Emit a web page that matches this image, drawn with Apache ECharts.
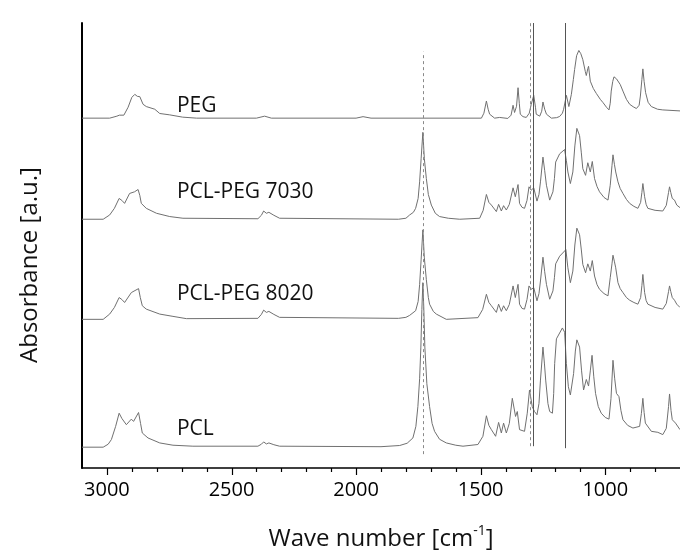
<!DOCTYPE html>
<html><head><meta charset="utf-8">
<script src="https://cdn.jsdelivr.net/npm/echarts@6/dist/echarts.min.js"></script>
<style>html,body{margin:0;padding:0;background:#fff}#c{width:680px;height:556px}</style>
</head><body><div id="c"></div>
<script>
// Wave number range (cm^-1), x axis reversed
const xMin = 700, xMax = 3100;
const majorTicks = [1000, 1500, 2000, 2500, 3000];
const minorTicks = [800, 900, 1100, 1200, 1300, 1400, 1600, 1700, 1800, 1900, 2100, 2200, 2300, 2400, 2600, 2700, 2800, 2900];
// Spectra: [wave number, absorbance (arbitrary units, stacked offsets included)]
const peg = [[3100,353],[2989,353],[2960,355],[2950,356],[2932,356],[2915,364],[2900,374],[2888,377],[2878,375],[2868,374.7],[2855,367],[2842,364.7],[2808,362],[2788,357.7],[2748,356.3],[2696,354],[2640,353],[2400,353],[2367,355],[2340,353],[2000,353],[1972,354.5],[1940,353],[1497,353],[1487,358],[1477,370.3],[1470,362],[1464,357],[1444,353],[1424,353.7],[1391,352.7],[1378,356],[1370,366],[1364,358.7],[1356,365],[1350,383.7],[1345,368],[1341,357],[1330,354.5],[1317,353.7],[1305,358],[1297,367],[1287,376],[1280,364],[1277,357],[1263,355],[1255,360],[1250,369.3],[1243,362],[1236,357],[1216,353],[1195,353.5],[1183,354.7],[1172,358],[1167,362],[1156,376],[1146,364.7],[1136,377],[1128,392],[1123,402],[1115,416],[1106,421.3],[1098,418],[1090,412],[1080,400],[1076,396],[1070,403],[1067,405.3],[1060,390.3],[1048,383],[1036,378],[1020,372],[1009,368.7],[995,364],[985,361.3],[980,368],[976,380.3],[970,390],[965,394.7],[960,393],[955,392.7],[949,393.7],[940,387],[929,380.3],[915,372],[902,367],[888,364.5],[875,362.7],[864,366],[859,375.3],[853,392],[849,402.7],[844,390],[838,378.7],[828,369],[815,364.7],[790,362],[769,361.3],[700,360.3]];
const pcl7030 = [[3100,251],[3015,251],[2989,255.3],[2970,262],[2951,272],[2940,270],[2929,267],[2909,277],[2889,278.7],[2875,281],[2868,275],[2862,267],[2842,262],[2801,257],[2748,253.7],[2695,252],[2394,251.5],[2380,255],[2371,259.3],[2360,257],[2350,258],[2330,255],[2307,252],[1830,251],[1800,252],[1785,255.3],[1770,258],[1761,262],[1751,272],[1745,288.7],[1739,312],[1732,338.7],[1726,312],[1718,292],[1710,276],[1698,265.3],[1682,257],[1665,253.7],[1630,252],[1584,251],[1504,252],[1490,260],[1477,276],[1467,268],[1457,265.3],[1437,258.7],[1428,266],[1417,259.3],[1408,264.7],[1397,260.3],[1385,266],[1370,282.7],[1361,273.7],[1350,286],[1344,267],[1334,263],[1324,262],[1314,270],[1306,283.7],[1297,280.3],[1287,282.7],[1274,269.3],[1266,276],[1260,288.7],[1250,313.7],[1243,300],[1236,285.3],[1223,270.3],[1210,278.7],[1204,292],[1199,308.7],[1183,317],[1163,321.3],[1156,310],[1150,298.7],[1140,287],[1130,298.7],[1122,325],[1114,342.7],[1103,335.3],[1096,318],[1090,302],[1079,295.3],[1070,308],[1060,298.7],[1052,309.3],[1043,292],[1033,284],[1023,278.7],[1005,273],[989,270.3],[980,285.3],[973,305],[969,316],[963,306],[958,298.7],[949,288.7],[940,282],[929,277],[915,271],[902,267],[885,264],[869,262],[858,268],[853,278],[849,287],[842,273.7],[836,266],[829,262],[800,260],[769,259.3],[755,265],[746,278],[742,283.7],[737,278],[731,272],[722,270.3],[713,265.3],[700,262.7]];
const pcl8020 = [[3100,150],[3015,150],[2989,155.3],[2970,162],[2951,172],[2940,170],[2929,167],[2902,177],[2873,181],[2866,172],[2858,163.7],[2842,160.3],[2788,155.3],[2735,153],[2681,150.7],[2394,151],[2380,155],[2371,159.3],[2360,157],[2350,158],[2330,155],[2307,152],[1830,151],[1800,152],[1785,154],[1761,158.7],[1751,168],[1745,185],[1739,210],[1732,240.3],[1726,212],[1718,190],[1710,172],[1705,165.3],[1690,158],[1678,155.3],[1638,150],[1511,151.7],[1492,160],[1477,175.3],[1467,167],[1457,163.7],[1437,157],[1428,165.3],[1417,158],[1408,163.7],[1397,158.7],[1385,165],[1370,183.7],[1361,172],[1350,185.3],[1344,165.3],[1334,161],[1324,160.3],[1314,170],[1306,183.7],[1297,180.3],[1287,182],[1274,168.7],[1266,176],[1260,188.7],[1250,212.7],[1243,198],[1236,185.3],[1223,170.3],[1210,178.7],[1204,192],[1199,206],[1183,213.7],[1158,220.3],[1150,202],[1140,187],[1130,198.7],[1122,225],[1114,242],[1103,235.3],[1096,220],[1090,205.3],[1079,197],[1070,206],[1060,198.7],[1052,209.3],[1043,193.7],[1033,185],[1023,180.3],[1005,176],[989,173.7],[980,192],[973,206],[969,214.7],[963,208],[958,202],[949,187],[940,181],[929,177],[915,172],[902,169.3],[885,167],[869,165.3],[858,172],[853,184],[849,195.3],[842,177],[836,169],[829,165.3],[800,162],[769,160.3],[755,166],[746,178],[742,183.7],[737,178],[731,172],[722,169.3],[713,165.3],[700,162]];
const pcl = [[3100,21],[3015,21],[2995,24],[2982,28.7],[2965,42],[2951,55.3],[2940,50],[2922,43.7],[2902,49.3],[2893,47],[2873,56],[2865,45],[2858,35.3],[2835,30.3],[2788,25.3],[2735,23],[2655,22],[2394,22],[2380,24],[2371,26.3],[2360,24.3],[2350,25.3],[2330,23.5],[2307,22],[1900,21.5],[1825,22.7],[1795,25],[1772,30.3],[1760,42],[1752,62],[1745,90],[1740,122],[1736,160],[1732,187],[1728,160],[1724,122],[1716,85],[1705,62],[1695,45],[1685,37],[1665,29],[1638,25.3],[1600,23],[1571,22],[1511,23.7],[1491,32],[1477,52.7],[1467,43],[1457,38.7],[1440,32],[1428,46],[1417,35.3],[1408,45.3],[1397,35.3],[1385,45],[1373,70.3],[1360,52],[1353,57],[1344,38.7],[1324,37],[1313,55.3],[1304,78.7],[1293,62],[1284,57],[1274,53.7],[1266,65],[1260,88.7],[1250,122],[1244,105],[1239,88.7],[1230,65],[1223,57],[1212,55.3],[1207,75],[1203,105.3],[1196,130.3],[1172,141.3],[1163,137],[1156,105.3],[1148,82],[1140,73.7],[1127,95.3],[1120,118],[1114,129.3],[1103,122],[1095,98],[1087,78.7],[1076,89.3],[1067,82.7],[1060,98],[1053,113.7],[1046,92],[1039,75.3],[1028,62],[1016,55.3],[1000,51],[985,49.3],[977,70],[969,108.7],[962,90],[955,75.3],[945,72],[937,58],[929,48.7],[910,43],[889,40.3],[862,42],[855,55],[849,70.3],[844,56],[839,45.3],[815,37],[789,36],[769,33.7],[755,40],[746,62],[742,74.7],[736,58],[731,48.7],[718,45.3],[700,38.7]];
const seriesNames = ['PEG', 'PCL-PEG 7030', 'PCL-PEG 8020', 'PCL'];
// label anchor [wave number, absorbance] for each series name
const labelAnchors = [[2719,365.5],[2719,278.3],[2719,176],[2719,39]];
// reference lines: wave number, from, to, dashed?
const refLines = [[1730,14,420,true],[1303,22,449,true],[1287,22,449,false],[1159,20,449,false]];

const font = 'Open Sans';
const chart = echarts.init(document.getElementById('c'), null, {renderer:'canvas'});
const spectra = [peg, pcl7030, pcl8020, pcl];
const series = spectra.map((d,i)=>({
  type:'line', name:seriesNames[i], data:d, showSymbol:false, symbol:'none', silent:true,
  lineStyle:{color:'#707070', width:1}, z:3,
  markPoint:{symbol:'circle', symbolSize:0, silent:true,
    data:[{coord:labelAnchors[i], value:seriesNames[i]}],
    label:{show:true, position:'right', distance:0, formatter:seriesNames[i], color:'#111', fontFamily:font, fontSize:21}}
}));
series.push({
  type:'line', data:[], silent:true, z:2,
  markLine:{symbol:'none', silent:true, label:{show:false},
    data: refLines.map(r=>[
      {coord:[r[0], r[1]], lineStyle:{color: r[3]?'#8a8a8a':'#555', width:1, type: r[3]?[3,3]:'solid'}},
      {coord:[r[0], r[2]]}
    ])}
});
chart.setOption({
  backgroundColor:'#fff', animation:false,
  grid: {left:82, right:0, top:23, bottom:84},
  xAxis:{type:'value', inverse:true, min:xMin, max:xMax, splitLine:{show:false},
    axisLine:{show:true, onZero:false, lineStyle:{color:'#000', width:1.5}},
    axisTick:{show:false},
    axisLabel:{show:true, customValues:majorTicks, margin:12, color:'#000', fontFamily:font, fontSize:20, formatter:v=>String(v)},
    name:'{a|Wave number [cm}{s|-1}{a|]}', nameLocation:'middle', nameGap:56,
    nameTextStyle:{rich:{a:{fontFamily:font, fontSize:24, color:'#111', lineHeight:30}, s:{fontFamily:font, fontSize:14, color:'#111', verticalAlign:'top', lineHeight:16}}}},
  yAxis:{type:'value', min:0, max:449, axisLine:{show:true, lineStyle:{color:'#000', width:2}}, axisTick:{show:false}, axisLabel:{show:false}, splitLine:{show:false}},
  series: series
});
// axis ticks and y title placed through the chart's own x scale
const tickEls = [];
const addTick = (v, len) => {
  const p = chart.convertToPixel({xAxisIndex:0, yAxisIndex:0}, [v, 0]);
  const x = Math.round(p[0]) + 0.5;
  tickEls.push({type:'line', silent:true, z:100, shape:{x1:x, y1:p[1], x2:x, y2:p[1] + len}, style:{stroke:'#000', lineWidth:1.2}});
};
majorTicks.forEach(v => addTick(v, 7));
minorTicks.forEach(v => addTick(v, 4));
tickEls.push({type:'text', x:30, y:265, rotation:Math.PI/2, silent:true, style:{text:'Absorbance [a.u.]', fontFamily:font, fontSize:24, fill:'#111', textAlign:'center', textVerticalAlign:'middle'}});
chart.setOption({graphic: tickEls});
</script></body></html>
